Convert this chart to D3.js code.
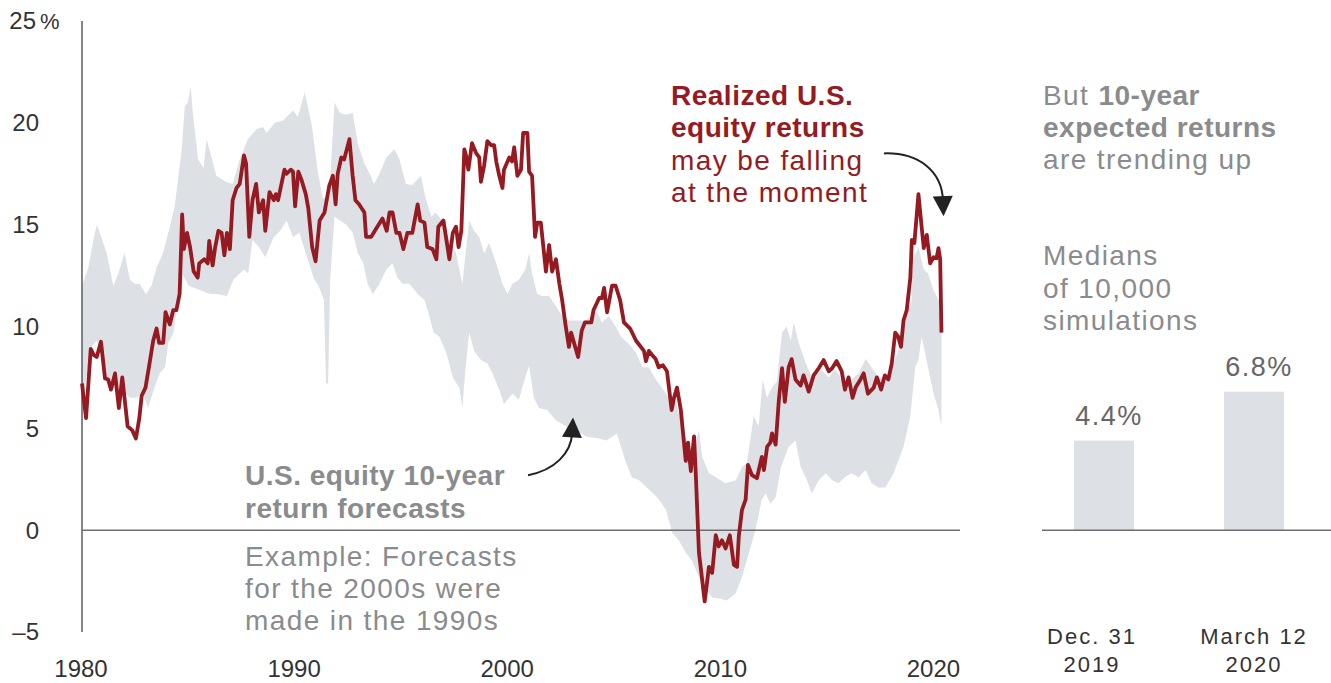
<!DOCTYPE html>
<html>
<head>
<meta charset="utf-8">
<script src="https://cdn.jsdelivr.net/npm/d3@7/dist/d3.min.js"></script>
<style>
body { margin: 0; background: #fff; }
svg text { font-family: "Liberation Sans", Arial, sans-serif; }
</style>
</head>
<body>
<div id="chart"></div>
<script>
var svg_width = 1331;
var svg_height = 683;

var red = "#951a22";
var gray = "#8a8b8d";
var bandColor = "#dde1e5";

// realized 10-year U.S. equity returns, [year, %]
var realized = [
  [1980.0,7.2],[1980.19,5.5],[1980.41,8.9],[1980.55,8.6],[1980.69,8.5],[1980.89,9.25],[1981.08,7.45],
  [1981.23,7.4],[1981.36,6.9],[1981.55,7.7],[1981.73,6.0],[1981.89,7.5],[1982.14,5.1],[1982.36,4.9],
  [1982.53,4.5],[1982.69,5.5],[1982.8,6.6],[1982.98,7.0],[1983.14,8.0],[1983.34,9.3],[1983.5,9.9],
  [1983.62,9.2],[1983.81,9.2],[1983.92,10.7],[1984.12,10.1],[1984.28,10.8],[1984.43,10.8],[1984.58,11.6],
  [1984.7,15.5],[1984.78,13.8],[1984.93,14.6],[1985.07,13.9],[1985.24,12.7],[1985.43,12.4],[1985.5,13.1],
  [1985.74,13.3],[1985.9,13.1],[1985.97,14.2],[1986.13,13.0],[1986.25,13.9],[1986.4,14.7],[1986.55,14.6],
  [1986.68,13.5],[1986.8,14.6],[1986.94,13.8],[1987.07,16.2],[1987.25,16.8],[1987.4,17.0],[1987.6,18.4],
  [1987.7,18.0],[1987.85,14.4],[1988.0,16.2],[1988.17,17.0],[1988.3,15.6],[1988.5,16.2],[1988.6,14.7],
  [1988.8,16.6],[1989.0,16.2],[1989.1,16.5],[1989.2,16.2],[1989.4,17.2],[1989.5,17.7],[1989.6,17.5],
  [1989.8,17.7],[1989.9,17.6],[1990.0,15.9],[1990.15,17.6],[1990.3,17.2],[1990.5,16.5],[1990.62,15.8],
  [1990.8,13.9],[1990.96,13.2],[1991.15,15.2],[1991.38,15.6],[1991.6,16.9],[1991.77,17.4],[1991.9,16.0],
  [1992.0,17.5],[1992.17,18.3],[1992.3,18.2],[1992.55,19.2],[1992.7,17.4],[1992.83,16.2],[1993.0,16.0],
  [1993.25,15.6],[1993.33,14.4],[1993.57,14.4],[1993.8,14.8],[1994.1,15.3],[1994.3,14.7],[1994.43,15.6],
  [1994.57,15.6],[1994.75,14.6],[1994.9,14.6],[1995.08,13.8],[1995.27,14.6],[1995.5,14.6],[1995.75,16.0],
  [1995.87,15.2],[1996.07,15.1],[1996.2,13.9],[1996.45,13.8],[1996.63,13.3],[1996.72,14.9],[1996.96,15.2],
  [1997.24,13.3],[1997.4,14.6],[1997.55,14.9],[1997.67,13.9],[1997.8,14.7],[1997.94,18.7],[1998.02,18.4],
  [1998.13,17.7],[1998.3,19.0],[1998.5,18.5],[1998.64,18.3],[1998.72,17.1],[1998.87,17.9],[1999.02,19.1],
  [1999.2,18.9],[1999.34,18.9],[1999.44,18.1],[1999.58,17.4],[1999.73,16.8],[1999.8,17.7],[2000.05,18.3],
  [2000.18,18.1],[2000.28,18.8],[2000.43,17.4],[2000.6,17.7],[2000.7,19.5],[2000.9,19.5],[2000.98,17.6],
  [2001.12,17.4],[2001.26,14.4],[2001.36,15.1],[2001.53,15.1],[2001.77,12.7],[2001.92,14.0],[2002.06,12.7],
  [2002.24,13.3],[2002.4,12.1],[2002.53,11.3],[2002.7,10.0],[2002.85,9.0],[2002.95,9.7],[2003.28,8.5],
  [2003.45,9.8],[2003.6,10.2],[2003.9,10.2],[2004.0,10.8],[2004.27,11.4],[2004.4,11.4],[2004.5,11.9],
  [2004.64,10.7],[2004.87,12.0],[2005.04,12.0],[2005.25,11.3],[2005.43,10.2],[2005.72,9.9],[2006.0,9.3],
  [2006.37,8.8],[2006.46,8.3],[2006.6,8.8],[2006.75,8.6],[2006.92,8.4],[2007.06,8.0],[2007.26,8.1],
  [2007.45,7.8],[2007.67,5.9],[2007.78,6.5],[2007.92,7.0],[2008.1,5.9],[2008.33,3.4],[2008.44,4.3],
  [2008.57,2.9],[2008.72,4.6],[2008.8,2.8],[2008.95,-1.1],[2009.22,-3.5],[2009.42,-1.8],[2009.57,-2.1],
  [2009.74,-0.25],[2009.88,-0.8],[2010.03,-0.5],[2010.2,-0.9],[2010.4,-0.25],[2010.59,-1.7],[2010.74,-1.8],
  [2010.82,-0.3],[2010.97,1.0],[2011.14,1.5],[2011.25,3.2],[2011.44,2.7],[2011.67,2.55],[2011.9,3.6],
  [2012.0,2.95],[2012.15,4.1],[2012.3,4.3],[2012.38,4.75],[2012.55,4.2],[2012.7,6.4],[2012.85,7.95],
  [2012.98,6.3],[2013.16,8.0],[2013.3,8.4],[2013.48,7.4],[2013.72,7.1],[2013.86,7.6],[2014.1,6.8],
  [2014.33,7.6],[2014.57,7.95],[2014.8,8.35],[2015.04,7.8],[2015.2,7.95],[2015.41,8.3],[2015.65,7.8],
  [2015.8,6.9],[2015.97,7.5],[2016.16,6.5],[2016.3,7.0],[2016.53,7.4],[2016.68,7.7],[2016.88,6.7],
  [2017.15,7.0],[2017.3,7.5],[2017.5,6.9],[2017.67,7.6],[2017.84,7.4],[2018.0,8.2],[2018.16,9.7],
  [2018.3,9.5],[2018.43,9.0],[2018.55,10.3],[2018.7,10.8],[2018.87,12.4],[2018.94,14.25],[2019.06,14.1],
  [2019.25,16.5],[2019.38,15.1],[2019.5,13.85],[2019.64,14.5],[2019.8,13.1],[2019.96,13.4],[2020.1,13.35],
  [2020.19,13.85],[2020.27,13.3],[2020.33,9.7]
];

// top edge of the forecast range
var forecastHigh = [
  [1980.0,12.0],[1980.3,12.9],[1980.53,14.25],[1980.7,15.0],[1980.84,14.6],[1981.16,13.6],[1981.47,12.0],
  [1981.7,12.6],[1982.0,13.6],[1982.25,12.3],[1982.48,12.1],[1982.7,12.1],[1983.0,11.6],[1983.26,12.0],
  [1983.5,12.9],[1983.8,13.6],[1984.12,14.9],[1984.35,15.9],[1984.68,18.7],[1984.82,20.8],[1984.97,21.0],
  [1985.1,21.8],[1985.2,20.5],[1985.45,18.2],[1985.7,17.8],[1985.85,19.2],[1986.08,18.3],[1986.3,17.4],
  [1986.78,17.1],[1987.07,17.0],[1987.4,18.2],[1987.78,19.2],[1988.2,19.7],[1988.5,19.8],[1988.66,19.5],
  [1989.04,20.0],[1989.42,20.1],[1989.9,20.6],[1990.13,20.3],[1990.45,21.5],[1990.8,19.8],[1991.05,17.7],
  [1991.3,16.3],[1991.6,16.4],[1991.85,21.0],[1992.1,20.5],[1992.4,20.4],[1992.7,20.5],[1992.94,19.0],
  [1993.25,18.0],[1993.5,17.5],[1993.7,17.0],[1993.96,17.5],[1994.28,18.3],[1994.66,18.7],[1994.9,18.2],
  [1995.2,17.0],[1995.5,16.95],[1995.9,17.4],[1996.15,16.2],[1996.4,15.4],[1996.6,15.6],[1996.9,15.2],
  [1997.24,14.25],[1997.55,13.6],[1997.85,12.1],[1998.0,13.6],[1998.17,15.2],[1998.4,14.7],[1998.64,14.4],
  [1998.87,13.6],[1999.1,14.1],[1999.44,13.1],[1999.73,12.1],[1999.96,11.6],[2000.2,12.1],[2000.5,12.3],
  [2000.8,12.8],[2000.98,13.6],[2001.12,12.6],[2001.36,11.6],[2001.6,11.5],[2001.92,11.5],[2002.24,11.0],
  [2002.53,10.5],[2002.86,10.3],[2003.2,10.3],[2003.65,10.3],[2004.12,10.8],[2004.4,10.2],[2004.73,10.5],
  [2005.04,10.0],[2005.3,9.5],[2005.7,9.1],[2006.0,8.7],[2006.3,8.0],[2006.6,8.0],[2006.93,7.4],
  [2007.2,7.0],[2007.54,6.5],[2007.86,6.4],[2008.15,5.1],[2008.4,4.3],[2008.62,3.6],[2008.95,4.9],
  [2009.1,3.6],[2009.42,2.8],[2009.74,2.6],[2010.2,2.3],[2010.68,2.45],[2010.97,3.1],[2011.2,3.3],
  [2011.52,5.6],[2011.75,5.1],[2011.94,7.4],[2012.14,6.5],[2012.38,7.0],[2012.6,7.3],[2012.85,9.7],
  [2013.07,10.0],[2013.26,9.3],[2013.4,10.2],[2013.63,9.2],[2013.96,8.2],[2014.25,7.5],[2014.66,7.9],
  [2015.04,7.5],[2015.36,7.9],[2015.74,7.2],[2016.11,7.4],[2016.45,7.7],[2016.77,8.4],[2017.05,8.0],
  [2017.38,7.5],[2017.7,7.5],[2018.0,8.0],[2018.3,8.8],[2018.64,10.3],[2018.93,11.3],[2019.0,13.3],
  [2019.25,13.9],[2019.5,12.8],[2019.7,12.6],[2019.95,11.8],[2020.2,11.3],[2020.33,11.0]
];

// bottom edge of the forecast range
var forecastLow = [
  [1980.0,6.0],[1980.2,7.5],[1980.45,9.0],[1980.7,9.3],[1981.0,8.2],[1981.3,6.9],[1981.7,7.0],
  [1982.25,6.5],[1982.55,6.5],[1982.85,6.7],[1983.1,6.0],[1983.4,7.0],[1983.65,7.7],[1983.9,8.0],
  [1984.05,9.2],[1984.3,9.7],[1984.5,11.3],[1984.68,11.8],[1984.75,12.5],[1985.0,12.0],[1985.5,11.8],
  [1986.0,11.6],[1986.3,11.6],[1986.8,11.5],[1987.1,12.3],[1987.4,12.6],[1987.6,12.8],[1987.8,12.6],
  [1988.0,14.25],[1988.3,13.9],[1988.6,13.4],[1989.0,14.4],[1989.3,14.7],[1989.6,15.2],[1989.9,14.4],
  [1990.2,14.6],[1990.5,13.6],[1990.9,12.3],[1991.1,12.0],[1991.35,11.3],[1991.45,7.2],[1991.55,7.2],
  [1991.65,12.4],[1991.85,15.4],[1992.1,15.2],[1992.4,15.0],[1992.7,14.6],[1992.95,13.6],[1993.2,13.1],
  [1993.4,12.1],[1993.65,11.6],[1993.96,12.1],[1994.28,12.8],[1994.57,13.1],[1994.8,12.4],[1995.05,12.1],
  [1995.36,12.1],[1995.75,11.6],[1996.07,11.3],[1996.3,10.5],[1996.5,9.7],[1996.77,9.5],[1997.1,8.7],
  [1997.4,7.5],[1997.7,7.0],[1997.85,6.0],[1998.0,8.0],[1998.17,9.7],[1998.4,8.8],[1998.72,8.35],
  [1999.02,8.2],[1999.26,7.7],[1999.58,6.9],[1999.8,6.2],[2000.2,6.7],[2000.5,6.4],[2000.8,7.5],
  [2000.98,8.1],[2001.2,6.5],[2001.45,6.0],[2001.83,5.9],[2002.24,5.4],[2002.7,5.1],[2003.2,4.9],
  [2003.65,4.6],[2004.26,4.5],[2004.6,4.4],[2005.1,4.75],[2005.5,3.4],[2005.8,2.6],[2006.14,2.45],
  [2006.6,2.0],[2007.0,1.6],[2007.4,1.0],[2007.7,-0.15],[2008.0,-0.5],[2008.33,-1.1],[2008.62,-1.5],
  [2008.95,-2.3],[2009.27,-2.9],[2009.57,-3.3],[2009.88,-3.35],[2010.26,-3.45],[2010.68,-3.1],[2010.97,-2.3],
  [2011.3,-1.1],[2011.6,0.0],[2011.9,1.5],[2012.08,1.8],[2012.3,1.3],[2012.55,1.6],[2012.8,3.1],
  [2013.16,4.1],[2013.48,4.4],[2013.72,3.1],[2013.96,2.6],[2014.25,1.8],[2014.57,2.45],[2014.9,2.8],
  [2015.2,2.45],[2015.5,2.3],[2015.8,2.6],[2016.1,2.8],[2016.45,2.6],[2016.77,2.95],[2017.05,2.3],
  [2017.38,2.1],[2017.7,2.1],[2018.08,2.8],[2018.3,3.4],[2018.55,4.1],[2018.87,5.6],[2019.1,8.0],
  [2019.25,8.35],[2019.4,9.5],[2019.56,8.7],[2019.8,7.5],[2019.96,6.7],[2020.19,5.9],[2020.33,5.1]
];

var yTicks = [-5, 0, 5, 10, 15, 20, 25];
var xTicks = [1980, 1990, 2000, 2010, 2020];

var barCategories = ["Dec. 31|2019", "March 12|2020"];
var barValues = [4.4, 6.8];

var svg = d3.select("#chart").append("svg")
    .attr("width", svg_width)
    .attr("height", svg_height);

var x = d3.scaleLinear().domain([1980, 2021.2]).range([82, 960]);
var y = d3.scaleLinear().domain([-5, 25]).range([632, 21]);

// forecast band: top edge forward, bottom edge back
var line = d3.line()
    .x(function(d) { return x(d[0]); })
    .y(function(d) { return y(d[1]); });

svg.append("path")
    .attr("d", line(forecastHigh.concat(forecastLow.slice().reverse())) + "Z")
    .attr("fill", bandColor);

// axes
svg.append("line")
    .attr("x1", x(1980)).attr("x2", x(1980))
    .attr("y1", y(25)).attr("y2", y(-5))
    .attr("stroke", "#444").attr("stroke-width", 1.3);

svg.append("line")
    .attr("x1", x(1980)).attr("x2", x(2021.2))
    .attr("y1", y(0)).attr("y2", y(0))
    .attr("stroke", "#6e6e6e").attr("stroke-width", 1.5);

svg.append("path")
    .attr("d", line(realized))
    .attr("fill", "none")
    .attr("stroke", red)
    .attr("stroke-width", 3.8)
    .attr("stroke-linejoin", "round");

svg.selectAll(".ytick")
    .data(yTicks)
    .enter().append("text")
    .attr("class", "ytick")
    .attr("x", function(d) { return d == 25 ? 36 : 39; })
    .attr("y", function(d) { return y(d); })
    .attr("dy", "0.35em")
    .attr("text-anchor", "end")
    .attr("fill", "#333")
    .style("font-size", "24px")
    .text(function(d) { return d < 0 ? "\u2013" + Math.abs(d) : d; });

svg.append("text")
    .attr("x", 40).attr("y", y(25)).attr("dy", "0.35em")
    .attr("fill", "#333")
    .style("font-size", "22px")
    .text("%");

svg.selectAll(".xtick")
    .data(xTicks)
    .enter().append("text")
    .attr("class", "xtick")
    .attr("x", function(d) { return x(d) - 1; })
    .attr("y", 677)
    .attr("text-anchor", "middle")
    .attr("fill", "#333")
    .style("font-size", "24px")
    .text(function(d) { return d; });

// text blocks: each line is a list of [text, bold]
function textBlock(x0, y0, lineHeight, lines, color) {
    var t = svg.append("text")
        .attr("x", x0).attr("y", y0)
        .attr("fill", color)
        .style("font-size", "28px");
    lines.forEach(function(parts, i) {
        parts.forEach(function(p, j) {
            var s = t.append("tspan").text(p[0])
                .attr("font-weight", p[1] ? "bold" : "normal")
                .attr("letter-spacing", p[1] ? 0.5 : 1.4);
            if (j == 0) s.attr("x", x0).attr("y", y0 + i * lineHeight);
        });
    });
}

textBlock(671, 105, 32.3, [
    [["Realized U.S.", true]],
    [["equity returns", true]],
    [["may be falling", false]],
    [["at the moment", false]]
], red);

textBlock(245, 485, 32.5, [
    [["U.S. equity 10-year", true]],
    [["return forecasts", true]]
], gray);

textBlock(245, 566, 32, [
    [["Example: Forecasts", false]],
    [["for the 2000s were", false]],
    [["made in the 1990s", false]]
], gray);

textBlock(1043, 105, 32, [
    [["But ", false], ["10-year", true]],
    [["expected returns", true]],
    [["are trending up", false]]
], gray);

textBlock(1043, 265, 32.5, [
    [["Medians", false]],
    [["of 10,000", false]],
    [["simulations", false]]
], gray);

// arrows, anchored in data space
svg.append("defs").append("marker")
    .attr("id", "head")
    .attr("viewBox", "0 0 10 10")
    .attr("refX", 2).attr("refY", 5)
    .attr("markerWidth", 22).attr("markerHeight", 20)
    .attr("markerUnits", "userSpaceOnUse")
    .attr("orient", "auto")
    .append("path")
    .attr("d", "M0,0 L10,5 L0,10 Z")
    .attr("fill", "#222");

var redArrow = [[2017.63, 18.5], [2019.3, 18.55], [2020.35, 17.6], [2020.4, 16.2]];
var grayArrow = [[2000.93, 2.7], [2002.2, 2.95], [2002.95, 3.8], [2003.0, 4.75]];

function curve(p) {
    return "M" + x(p[0][0]) + "," + y(p[0][1]) +
        "C" + x(p[1][0]) + "," + y(p[1][1]) + " " +
        x(p[2][0]) + "," + y(p[2][1]) + " " +
        x(p[3][0]) + "," + y(p[3][1]);
}

[redArrow, grayArrow].forEach(function(p) {
    svg.append("path")
        .attr("d", curve(p))
        .attr("fill", "none")
        .attr("stroke", "#222")
        .attr("stroke-width", 2)
        .attr("marker-end", "url(#head)");
});

// right panel: medians
var xb = d3.scaleBand()
    .domain(barCategories)
    .range([1029, 1329])
    .paddingInner(0.6)
    .paddingOuter(0.3);

svg.selectAll(".bar")
    .data(barValues)
    .enter().append("rect")
    .attr("class", "bar")
    .attr("x", function(d, i) { return xb(barCategories[i]); })
    .attr("y", function(d) { return y(d); })
    .attr("width", xb.bandwidth())
    .attr("height", function(d) { return y(0) - y(d); })
    .attr("fill", bandColor);

svg.append("line")
    .attr("x1", 1042).attr("x2", 1331)
    .attr("y1", y(0)).attr("y2", y(0))
    .attr("stroke", "#6e6e6e").attr("stroke-width", 1.5);

svg.selectAll(".barlabel")
    .data(barValues)
    .enter().append("text")
    .attr("class", "barlabel")
    .attr("x", function(d, i) { return xb(barCategories[i]) + xb.bandwidth() / 2 + 5; })
    .attr("y", function(d) { return y(d) - 16; })
    .attr("text-anchor", "middle")
    .attr("fill", "#666")
    .attr("letter-spacing", 1.5)
    .style("font-size", "27px")
    .text(function(d) { return d.toFixed(1) + "%"; });

svg.selectAll(".cat")
    .data(barCategories)
    .enter().append("text")
    .attr("class", "cat")
    .attr("text-anchor", "middle")
    .attr("fill", "#333")
    .attr("letter-spacing", 2)
    .style("font-size", "22px")
    .each(function(d) {
        var cx = xb(d) + xb.bandwidth() / 2 - (d.indexOf("Dec") == 0 ? 12 : 0);
        var el = d3.select(this);
        d.split("|").forEach(function(s, i) {
            el.append("tspan").attr("x", cx).attr("y", 644 + i * 28).text(s);
        });
    });
</script>
</body>
</html>
